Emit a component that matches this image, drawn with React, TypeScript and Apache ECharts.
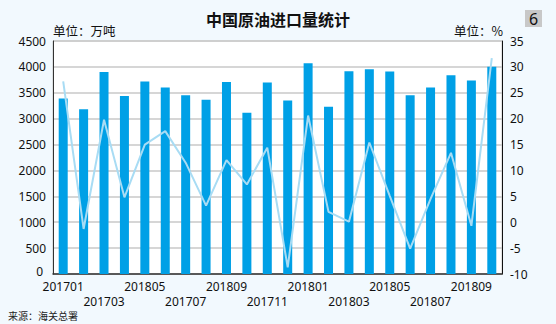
import React, { useEffect, useRef } from "react";
import * as echarts from "echarts";

const categories = [
  "201701", "201702", "201703", "201704", "201805", "201706", "201707", "201708",
  "201809", "201710", "201711", "201712", "201801", "201802", "201803", "201804",
  "201805", "201806", "201807", "201808", "201809", "201810",
];
const importVolume = [
  3390, 3180, 3900, 3440, 3720, 3600, 3450, 3365, 3710, 3115, 3700,
  3350, 4070, 3230, 3915, 3955, 3910, 3450, 3600, 3840, 3735, 4005,
];
const yoyGrowth = [
  27.2, -1.3, 19.8, 4.8, 15.0, 17.6, 11.5, 3.2, 12.0, 7.3, 14.4,
  -8.7, 20.6, 2.0, 0.1, 15.4, 5.1, -5.1, 4.5, 13.4, -0.7, 31.7,
];

export default function App() {
  const ref = useRef<HTMLDivElement>(null);
  useEffect(() => {
    if (!ref.current) return;
    const chart = echarts.init(ref.current, null, { renderer: "svg" });
    const font = "'Noto Sans', 'Noto Sans CJK SC', sans-serif";
    const xLabelBase = {
      showMinLabel: true,
      showMaxLabel: true,
      hideOverlap: false,
      color: "#111",
      fontSize: 12,
      lineHeight: 13,
    };
    chart.setOption({
      animation: false,
      backgroundColor: "#f2f9fe",
      textStyle: { fontFamily: font },
      title: {
        text: "中国原油进口量统计",
        left: "center",
        top: 6,
        textStyle: { fontSize: 16, fontWeight: "bold", color: "#111", fontFamily: "'Noto Sans CJK SC', sans-serif" },
      },
      graphic: [
        { type: "rect", shape: { x: 525, y: 10, width: 17, height: 17 }, style: { fill: "#c8c8c8" } },
        { type: "text", x: 533.5, y: 18.5, style: { text: "6", fill: "#111", align: "center", verticalAlign: "middle", font: "16px 'Noto Sans', sans-serif" } },
        { type: "text", x: 53, y: 24, style: { text: "单位：万吨", fill: "#111", font: "12.5px 'Noto Sans CJK SC', sans-serif" } },
        { type: "text", x: 503, y: 24, style: { text: "单位：%", fill: "#111", align: "right", font: "12.5px 'Noto Sans CJK SC', sans-serif" } },
        { type: "text", x: 8, y: 310, style: { text: "来源：海关总署", fill: "#222", font: "10px 'Noto Sans CJK SC', sans-serif" } },
      ],
      grid: {
        left: 53,
        right: 54,
        top: 41,
        bottom: 50,
        show: true,
        backgroundColor: "#ffffff",
        borderColor: "#c8c8c8",
        borderWidth: 1,
      },
      xAxis: [
        {
          type: "category",
          data: categories,
          axisLine: { lineStyle: { color: "#333", width: 1.5 } },
          axisTick: { show: false },
          axisLabel: {
            ...xLabelBase,
            interval: (i: number) => i % 4 === 0,
            margin: 6,
          },
        },
        {
          type: "category",
          data: categories,
          position: "bottom",
          axisLine: { show: false },
          axisTick: { show: false },
          splitLine: { show: false },
          axisLabel: {
            ...xLabelBase,
            interval: (i: number) => i % 4 === 2,
            margin: 21,
          },
        },
      ],
      yAxis: [
        {
          type: "value",
          min: 0,
          max: 4500,
          interval: 500,
          axisLine: { show: true, lineStyle: { color: "#333" } },
          axisTick: { show: false },
          axisLabel: {
            color: "#111",
            fontSize: 12,
            lineHeight: 10,
            margin: 7,
            formatter: (v: number) => (v === 0 ? "{z|0}" : String(v)),
            rich: { z: { color: "#111", fontSize: 12, lineHeight: 10, padding: [0, 3, 6, 0] } },
          },
          splitLine: { lineStyle: { color: "#c8c8c8", width: 1.5 } },
        },
        {
          type: "value",
          min: -10,
          max: 35,
          interval: 5,
          axisLine: { show: true, lineStyle: { color: "#111" } },
          axisTick: { show: false },
          axisLabel: { color: "#111", fontSize: 12, lineHeight: 10, margin: 8 },
          splitLine: { show: false },
        },
      ],
      series: [
        {
          type: "bar",
          data: importVolume,
          barWidth: 9,
          itemStyle: { color: "#00a0e6" },
        },
        {
          type: "line",
          yAxisIndex: 1,
          data: yoyGrowth,
          symbol: "none",
          lineStyle: { color: "#a8dcf4", width: 2 },
        },
      ],
    });
    return () => chart.dispose();
  }, []);
  return (
    <div
      ref={ref}
      style={{ position: "absolute", left: 0, top: 0, width: 556, height: 324 }}
    />
  );
}
